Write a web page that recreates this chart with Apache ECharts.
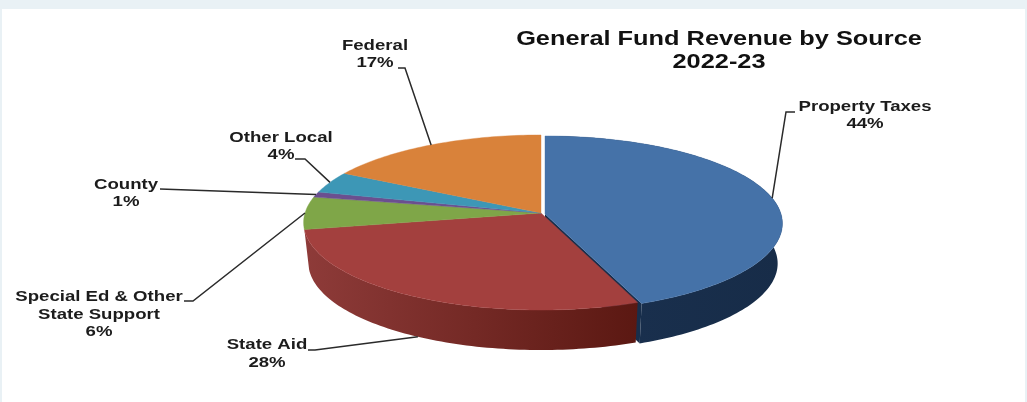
<!DOCTYPE html>
<html><head><meta charset="utf-8">
<script src="https://cdn.jsdelivr.net/npm/echarts@6/dist/echarts.min.js"></script>
<style>
html,body{margin:0;padding:0;width:1027px;height:402px;background:#e9f1f5;overflow:hidden}
#c{position:absolute;left:2px;top:9px;width:1023px;height:393px;background:#fff}
#m{position:absolute;left:-2px;top:-9px;width:1027px;height:402px;filter:blur(0.5px)}
</style></head><body>
<div id="c"><div id="m"></div></div>
<script>
// data
const categories = ['Property Taxes','State Aid','Special Ed & Other State Support','County','Other Local','Federal'];
const shares = [44,28,6,1,4,17];
const labelLines = [['Property Taxes','44%'],['State Aid','28%'],['Special Ed & Other','State Support','6%'],['County','1%'],['Other Local','4%'],['Federal','17%']];
const titleLines = ['General Fund Revenue by Source','2022-23'];

// styles
const topColors = ['#4572a8','#a3403e','#7fa648','#6b4f8f','#3d97b6','#d9823a'];
const wallColors = [['#1a3150','#172c48'],['#8e3b39','#5b1812']];
const navy = '#182e4b';

// projection of the pie disc
const geo = {cx:541, cy:213, b:236, a:86.5, k:0.1086, depth:40, shrink:0.98, explode:[[4,1]]};
// label layout: centre of the label block, elbow of the leader
const labelLayout = [
  {x:865,y:107,lh:17,from:[795,112],elbow:[786,112]},
  {x:267,y:345,lh:18,from:[308,350],elbow:[315,350],onWall:true},
  {x:99,y:297,lh:17.5,from:[184,301],elbow:[193,301]},
  {x:126,y:185,lh:17,from:[160,189],elbow:null},
  {x:281,y:138,lh:17,from:[295,159],elbow:[305,159]},
  {x:375,y:46,lh:17,from:[398,68],elbow:[405,68]}
];
const textColor = '#1c1c1c';
const textFont = 'bold 15px "Liberation Sans", Arial, sans-serif';
const stretch = 1.24;

const total = shares.reduce((s,v)=>s+v,0);
const starts = []; shares.reduce((s,v,i)=>{starts[i]=s;return s+v;},0);
function off(i){const e=geo.explode[i]; return e||[0,0];}
function proj(i,frac,level){
  const t=frac/total*2*Math.PI,u=Math.sin(t),v=Math.cos(t),d=1+geo.k*v,o=off(i);
  const s=level?geo.shrink:1;
  return [geo.cx+o[0]+geo.b*s*u/d, geo.cy+o[1]+geo.a*v*-1/d+(level?geo.depth:0)];
}
function apex(i,level){const o=off(i);return [geo.cx+o[0],geo.cy+o[1]+(level?geo.depth:0)];}
function arc(i,level){
  const n=Math.max(4,Math.round(shares[i]*3)),pts=[];
  for(let j=0;j<=n;j++)pts.push(proj(i,starts[i]+shares[i]*j/n,level));
  return pts;
}
const chart = echarts.init(document.getElementById('m'),null,{renderer:'canvas'});
chart.setOption({
  animation:false,
  series:[
    {type:'custom',coordinateSystem:'none',z:2,silent:true,data:shares,
     renderItem(p){
       const i=p.dataIndex,c=wallColors[i];
       if(!c)return null;
       const kids=[];
       const top=arc(i,0),bot=arc(i,1).reverse();
       const fill=new echarts.graphic.LinearGradient(0,0,1,0,[{offset:0,color:c[0]},{offset:1,color:c[1]}]);
       if(i===0){
         const ft=top[top.length-1],fb=proj(0,starts[0]+shares[0],1);
         kids.push({type:'polygon',z2:1,shape:{points:[apex(0,0),ft,fb,apex(0,1)]},style:{fill:navy}});
       }
       kids.push({type:'polygon',z2:2+i,shape:{points:top.concat(bot)},style:{fill}});
       return {type:'group',children:kids};
     }},
    {type:'custom',coordinateSystem:'none',z:3,silent:true,data:shares,
     renderItem(p){
       const i=p.dataIndex;
       return {type:'polygon',z2:i===0?50:i,shape:{points:[apex(i,0)].concat(arc(i,0))},
               style:{fill:topColors[i],stroke:topColors[i],lineWidth:0.4}};
     }},
    {type:'custom',coordinateSystem:'none',z:4,silent:true,data:shares,
     renderItem(p){
       const i=p.dataIndex,l=labelLayout[i],kids=[];
       const end=proj(i,starts[i]+shares[i]/2,l.onWall?1:0);
       const pts=[l.from];if(l.elbow)pts.push(l.elbow);pts.push(end);
       kids.push({type:'polyline',shape:{points:pts},style:{fill:null,stroke:'#2a2a2a',lineWidth:1.5}});
       labelLines[i].forEach((t,j)=>kids.push({type:'text',x:l.x,y:l.y+j*l.lh,scaleX:stretch,
         style:{text:t,font:textFont,fill:textColor,textAlign:'center',textVerticalAlign:'middle'}}));
       return {type:'group',children:kids};
     }},
    {type:'custom',coordinateSystem:'none',z:5,silent:true,data:titleLines,
     renderItem(p){
       const i=p.dataIndex;
       return {type:'text',x:719,y:39.5+i*23.5,scaleX:1.3,
         style:{text:titleLines[i],font:'bold 19.5px "Liberation Sans", Arial, sans-serif',fill:'#111',textAlign:'center',textVerticalAlign:'middle'}};
     }}
  ]
});
</script></body></html>
